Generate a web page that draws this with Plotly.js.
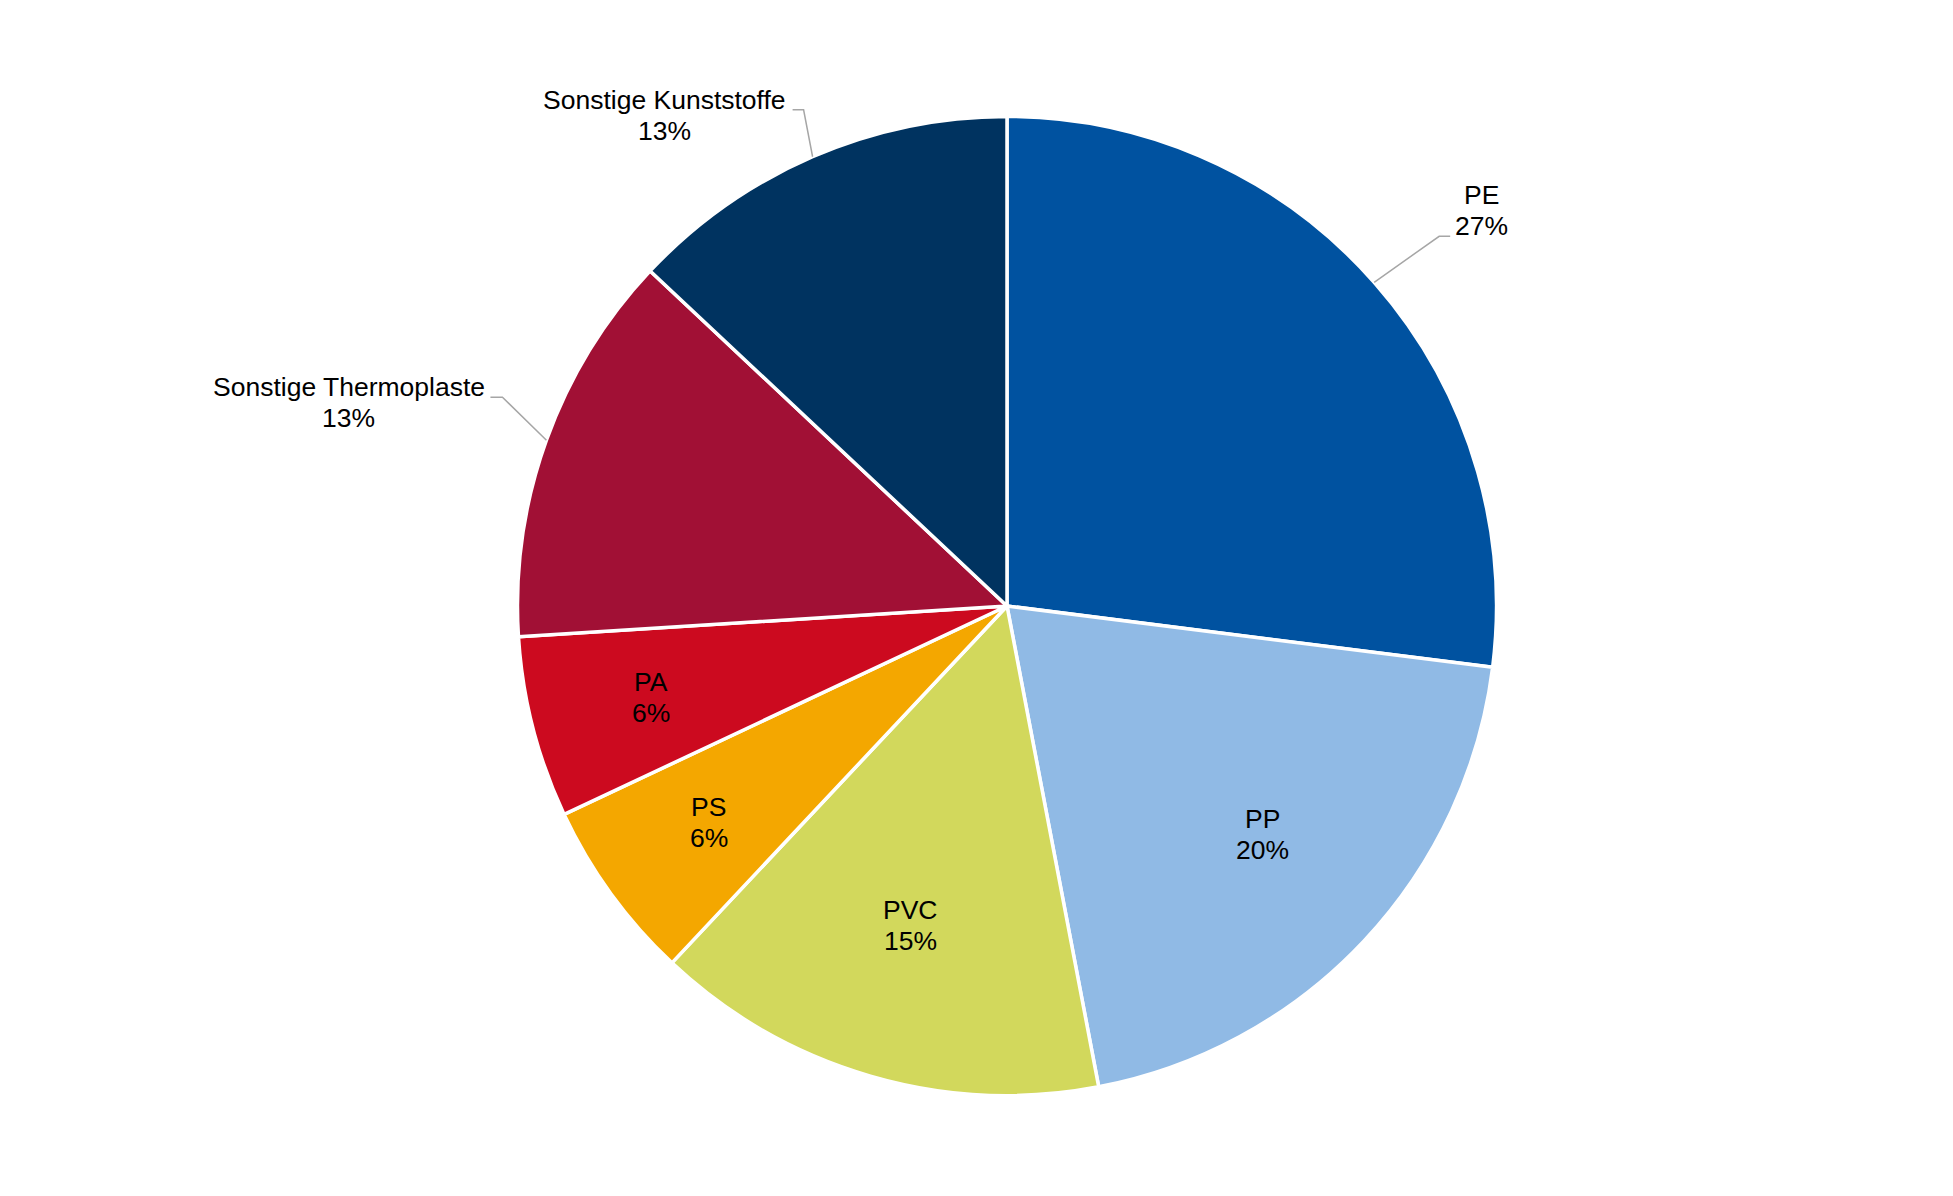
<!DOCTYPE html>
<html>
<head>
<meta charset="utf-8">
<script src="https://cdn.plot.ly/plotly-3.0.1.min.js"></script>
<style>html,body{margin:0;padding:0;background:#fff;}#chart{width:1953px;height:1196px;}</style>
</head>
<body>
<div id="chart"></div>
<script>
// ---- data ----
const categories = ["PE", "PP", "PVC", "PS", "PA", "Sonstige Thermoplaste", "Sonstige Kunststoffe"];
const values = [27, 20, 15, 6, 6, 13, 13];
const colors = ["#0052A0", "#90BAE5", "#D2D85C", "#F4A700", "#CC0A1F", "#A11035", "#003360"];

// ---- layout config ----
const W = 1953, H = 1196;
const CX = 1007, CY = 606, R = 489.5;        // pie centre & radius in px
const FONT = {family: "Liberation Sans, Arial, sans-serif", size: 26.5, color: "#000000"};
const LINE_GAP = 31;                          // distance between the two text lines
// inside labels: radial fraction of the radius and small angular nudge (degrees)
const insideCfg = {
  "PP": {frac: 0.701, nudge: -1.4},
  "PVC": {frac: 0.681, nudge: 0.6},
  "PS": {frac: 0.753, nudge: 0},
  "PA": {frac: 0.751, nudge: 0}
};
// outside labels: elbow offset from edge point, tail, text-centre offset from tail end
const outsideCfg = {
  "PE": {elbow: [65, -46], tail: 11, text: [31, -41]},
  "Sonstige Thermoplaste": {elbow: [-44, -43], tail: -12, text: [-141.5, -10.5]},
  "Sonstige Kunststoffe": {elbow: [-9, -47], tail: -11, text: [-128, -10]}
};

const px = x => x / W;
const py = y => 1 - y / H;

const total = values.reduce((a, b) => a + b, 0);
const annotations = [];
const shapes = [];
let cum = 0;
values.forEach((v, i) => {
  const theta = 2 * Math.PI * (cum + v / 2) / total;
  cum += v;
  const name = categories[i];
  const pct = Math.round(v / total * 100) + "%";
  let tx, ty;
  if (insideCfg[name] !== undefined) {
    const c = insideCfg[name];
    const rho = R * c.frac;
    const th = theta + c.nudge * Math.PI / 180;
    tx = CX + rho * Math.sin(th);
    ty = CY - rho * Math.cos(th) - LINE_GAP / 2;
  } else {
    const c = outsideCfg[name];
    const ex = CX + R * Math.sin(theta), ey = CY - R * Math.cos(theta);
    const bx = ex + c.elbow[0], by = ey + c.elbow[1];
    const tex = bx + c.tail, tey = by;
    shapes.push({
      type: "path", xref: "paper", yref: "paper",
      path: `M ${px(ex)} ${py(ey)} L ${px(bx)} ${py(by)} L ${px(tex)} ${py(tey)}`,
      line: {color: "#A6A6A6", width: 1.5}
    });
    tx = tex + c.text[0];
    ty = tey + c.text[1];
  }
  annotations.push({x: px(tx), y: py(ty), xref: "paper", yref: "paper", text: name,
    showarrow: false, xanchor: "center", yanchor: "middle", font: FONT});
  annotations.push({x: px(tx), y: py(ty + LINE_GAP), xref: "paper", yref: "paper", text: pct,
    showarrow: false, xanchor: "center", yanchor: "middle", font: FONT});
});

const trace = {
  type: "pie",
  labels: categories,
  values: values,
  sort: false,
  direction: "clockwise",
  rotation: 0,
  textinfo: "none",
  hoverinfo: "label+percent",
  marker: {colors: colors, line: {color: "#FFFFFF", width: 3.5}},
  domain: {x: [px(CX - R), px(CX + R)], y: [py(CY + R), py(CY - R)]}
};

const layout = {
  width: W, height: H,
  margin: {l: 0, r: 0, t: 0, b: 0},
  paper_bgcolor: "#FFFFFF",
  showlegend: false,
  annotations: annotations,
  shapes: shapes
};

Plotly.newPlot("chart", [trace], layout, {displayModeBar: false, staticPlot: true});
</script>
</body>
</html>
